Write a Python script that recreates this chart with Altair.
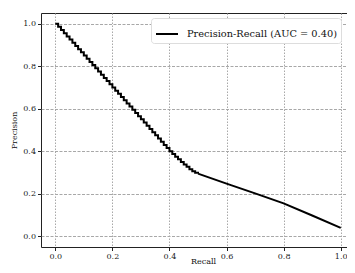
import altair as alt
import pandas as pd

series_name = "Precision-Recall (AUC = 0.40)"

# stepped part of the curve
recall_a = [0.00, 0.01, 0.02, 0.03, 0.04, 0.05, 0.06, 0.07, 0.08, 0.09,
            0.10, 0.11, 0.12, 0.13, 0.14, 0.15, 0.16, 0.17, 0.18, 0.19,
            0.20, 0.21, 0.22, 0.23, 0.24, 0.25, 0.26, 0.27, 0.28, 0.29,
            0.30, 0.31, 0.32, 0.33, 0.34, 0.35, 0.36, 0.37, 0.38, 0.39,
            0.40, 0.41, 0.42, 0.43, 0.44, 0.45, 0.46, 0.47, 0.48, 0.49, 0.50]
precision_a = [1.000, 0.985, 0.970, 0.955, 0.940, 0.925, 0.910, 0.895, 0.880, 0.865,
               0.850, 0.835, 0.820, 0.805, 0.790, 0.775, 0.760, 0.745, 0.730, 0.715,
               0.700, 0.685, 0.670, 0.655, 0.640, 0.625, 0.610, 0.595, 0.580, 0.565,
               0.550, 0.535, 0.520, 0.505, 0.490, 0.475, 0.460, 0.445, 0.430, 0.415,
               0.400, 0.387, 0.374, 0.362, 0.350, 0.338, 0.327, 0.316, 0.306, 0.299, 0.295]

# smooth tail of the curve
recall_b = [0.50, 0.60, 0.70, 0.80, 0.90, 1.00]
precision_b = [0.295, 0.248, 0.202, 0.155, 0.098, 0.040]

tick_values = [0.0, 0.2, 0.4, 0.6, 0.8, 1.0]

df_a = pd.DataFrame({"Recall": recall_a, "Precision": precision_a, "series": series_name})
df_b = pd.DataFrame({"Recall": recall_b, "Precision": precision_b, "series": series_name})

FONT = "DejaVu Serif"

x_enc = alt.X("Recall:Q",
              scale=alt.Scale(domain=[-0.05, 1.05], nice=False, zero=False),
              axis=alt.Axis(values=tick_values, format=".1f", title="Recall",
                            gridDash=[1.5, 1.5], titleX=162, titleY=16,
                            titleAlign="center", titleBaseline="alphabetic"))
y_enc = alt.Y("Precision:Q",
              scale=alt.Scale(domain=[-0.05, 1.05], nice=False, zero=False),
              axis=alt.Axis(values=tick_values, format=".1f", title="Precision",
                            gridDash=[3, 1.5]))
color_enc = alt.Color("series:N",
                      scale=alt.Scale(domain=[series_name], range=["black"]),
                      legend=alt.Legend(title=None, orient="none",
                                        legendX=110, legendY=5,
                                        symbolType="stroke", symbolStrokeWidth=2,
                                        symbolSize=484, labelOffset=8,
                                        labelLimit=400,
                                        labelFont=FONT, labelFontSize=9.8,
                                        labelColor="#111",
                                        strokeColor="#dddddd", fillColor="white",
                                        cornerRadius=3, padding=4))

line_a = alt.Chart(df_a).mark_line(interpolate="step-after", strokeWidth=2).encode(
    x=x_enc, y=y_enc, color=color_enc)
line_b = alt.Chart(df_b).mark_line(strokeWidth=2).encode(
    x=x_enc, y=y_enc, color=color_enc)

chart = alt.layer(line_a, line_b).properties(
    width=314, height=234,
    autosize=alt.AutoSizeParams(type="none"),
    padding={"left": 33, "top": 5, "right": -8, "bottom": 18},
).configure_view(
    stroke="#222", strokeWidth=1,
).configure_axis(
    labelFont=FONT, labelFontSize=8, labelColor="#222",
    titleFont=FONT, titleFontSize=8, titleColor="#111", titleFontWeight="normal",
    domain=False, tickColor="#222", tickSize=3.5,
    gridColor="#a8a8a8", gridWidth=1, gridOpacity=1,
).configure_axisX(labelPadding=2).configure_axisY(labelPadding=2, titlePadding=4)

chart.save("out.html", embed_options={"renderer": "svg", "actions": False})
